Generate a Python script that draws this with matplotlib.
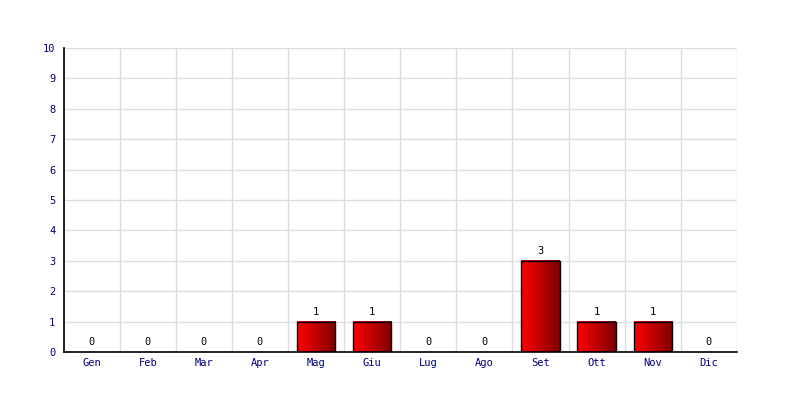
import numpy as np
import matplotlib
matplotlib.use('Agg')
import matplotlib.pyplot as plt
from matplotlib.colors import LinearSegmentedColormap

months = ['Gen', 'Feb', 'Mar', 'Apr', 'Mag', 'Giu', 'Lug', 'Ago', 'Set', 'Ott', 'Nov', 'Dic']
counts = [0, 0, 0, 0, 1, 1, 0, 0, 3, 1, 1, 0]
yticks = list(range(0, 11))

plt.rcParams['font.family'] = 'DejaVu Sans Mono'

fig = plt.figure(figsize=(8, 4), dpi=100)
ax = fig.add_axes([0.0795, 0.12, 0.8415, 0.76])

# horizontal gradient red -> dark red for the bars
cmap = LinearSegmentedColormap.from_list('redgrad', ['#ff0000', '#800000'])
grad = np.linspace(0, 1, 64).reshape(1, -1)
w = 0.68
x = np.arange(len(months))
for xi, c in zip(x, counts):
    if c > 0:
        ax.imshow(grad, cmap=cmap, aspect='auto', extent=(xi - w/2, xi + w/2, 0, c), zorder=2)
        ax.bar(xi, c, width=w, facecolor='none', edgecolor='black', linewidth=1, zorder=3)
    ax.text(xi, c + 0.15, str(c), ha='center', va='bottom', fontsize=7.5, color='black', zorder=4)

ax.set_xlim(-0.5, len(months) - 0.5)
ax.set_ylim(0, 10)
ax.set_xticks(x)
ax.set_xticklabels(months)
ax.set_yticks(yticks)
ax.set_xticks(np.arange(-0.5, len(months), 1), minor=True)
ax.grid(False)
ax.grid(True, which='minor', axis='x', color='#dddddd', linewidth=1, zorder=0)
ax.grid(True, which='major', axis='y', color='#dddddd', linewidth=1, zorder=0)
ax.set_axisbelow(True)
ax.tick_params(axis='both', which='both', length=0, labelsize=7.5, labelcolor='#000080')
ax.tick_params(axis='y', pad=6)
ax.tick_params(axis='x', pad=4)
for s in ['top', 'right']:
    ax.spines[s].set_visible(False)
ax.spines['left'].set_linewidth(1.2)
ax.spines['bottom'].set_linewidth(1.2)

fig.savefig('out.png', dpi=100)
